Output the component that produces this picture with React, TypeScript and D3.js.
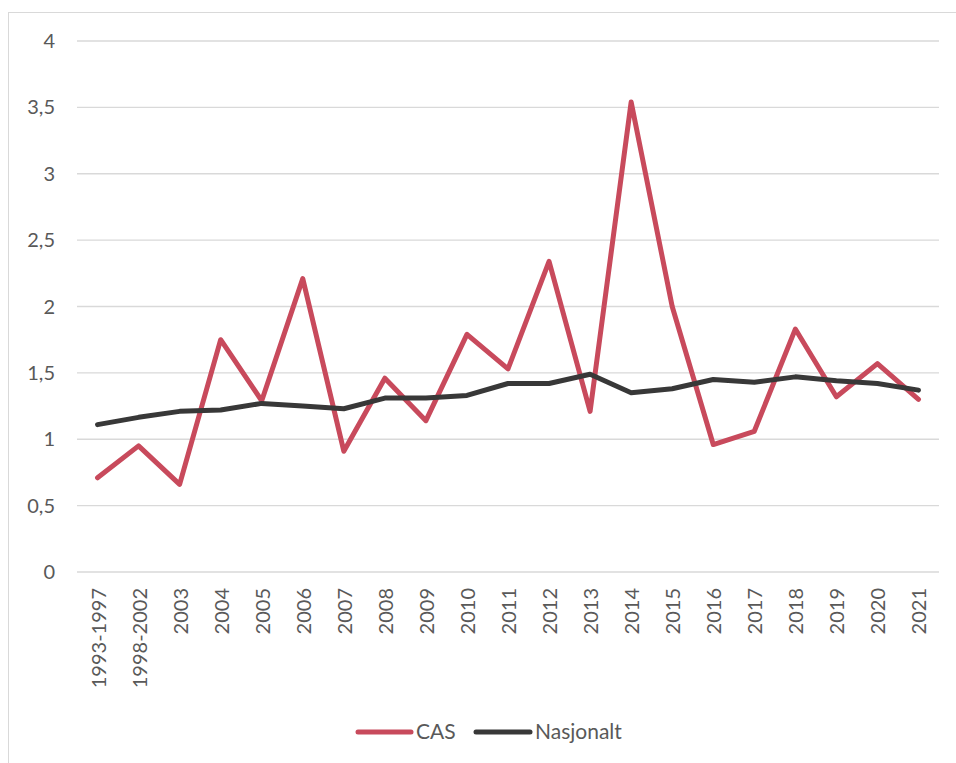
import React from 'react';
import * as d3 from 'd3';

const categories = ['1993-1997', '1998-2002', '2003', '2004', '2005', '2006', '2007', '2008', '2009', '2010', '2011', '2012', '2013', '2014', '2015', '2016', '2017', '2018', '2019', '2020', '2021'];
const casValues = [0.71, 0.95, 0.66, 1.75, 1.29, 2.21, 0.91, 1.46, 1.14, 1.79, 1.53, 2.34, 1.21, 3.54, 2.0, 0.96, 1.06, 1.83, 1.32, 1.57, 1.3];
const nasjonaltValues = [1.11, 1.165, 1.21, 1.22, 1.27, 1.25, 1.23, 1.31, 1.31, 1.33, 1.42, 1.42, 1.49, 1.35, 1.38, 1.45, 1.43, 1.47, 1.44, 1.42, 1.37];
const yTicks = [0, 0.5, 1, 1.5, 2, 2.5, 3, 3.5, 4];
const seriesNames = ['CAS', 'Nasjonalt'];

const W = 956;
const H = 763;
const left = 77;
const right = 939;
const top = 41;
const bottom = 572;
const font = 'Lato, "Open Sans", sans-serif';
const textColor = '#595959';
const colors = ['#C84A5C', '#383838'];

export default function App() {
  const x = d3.scaleBand().domain(categories).range([left, right]);
  const y = d3.scaleLinear().domain([0, 4]).range([bottom, top]);
  const cx = (c: string) => (x(c) as number) + x.bandwidth() / 2;

  const line = d3.line<number>()
    .x((d, i) => cx(categories[i]))
    .y(d => y(d));

  const series = [casValues, nasjonaltValues];

  return (
    <svg width={W} height={H} style={{ position: 'absolute', left: 0, top: 0 }}>
      <rect x={0} y={0} width={W} height={H} fill="#fff" />
      <rect x={8.5} y={12.5} width={980} height={780} fill="none" stroke="#d9d9d9" strokeWidth={1} />

      {yTicks.map(t => (
        <g key={t}>
          <line x1={left} x2={right} y1={y(t)} y2={y(t)} stroke="#d9d9d9" strokeWidth={1.3} />
          <text x={55} y={y(t)} dy="0.35em" textAnchor="end" fontFamily={font} fontSize={20} fill={textColor}>
            {String(t).replace('.', ',')}
          </text>
        </g>
      ))}

      {categories.map(c => (
        <text key={c} transform={`translate(${cx(c) + 1},588) rotate(-90)`} dy="0.35em" textAnchor="end"
          fontFamily={font} fontSize={20} fill={textColor}>
          {c}
        </text>
      ))}

      {series.map((s, i) => (
        <path key={i} d={line(s) as string} fill="none" stroke={colors[i]} strokeWidth={5}
          strokeLinejoin="round" strokeLinecap="round" />
      ))}

      <g>
        <line x1={358} x2={411} y1={732} y2={732} stroke={colors[0]} strokeWidth={5} strokeLinecap="round" />
        <text x={416} y={732} dy="0.35em" fontFamily={font} fontSize={21} fill={textColor}>{seriesNames[0]}</text>
        <line x1={476} x2={530} y1={732} y2={732} stroke={colors[1]} strokeWidth={5} strokeLinecap="round" />
        <text x={535} y={732} dy="0.35em" fontFamily={font} fontSize={21} fill={textColor}>{seriesNames[1]}</text>
      </g>
    </svg>
  );
}
